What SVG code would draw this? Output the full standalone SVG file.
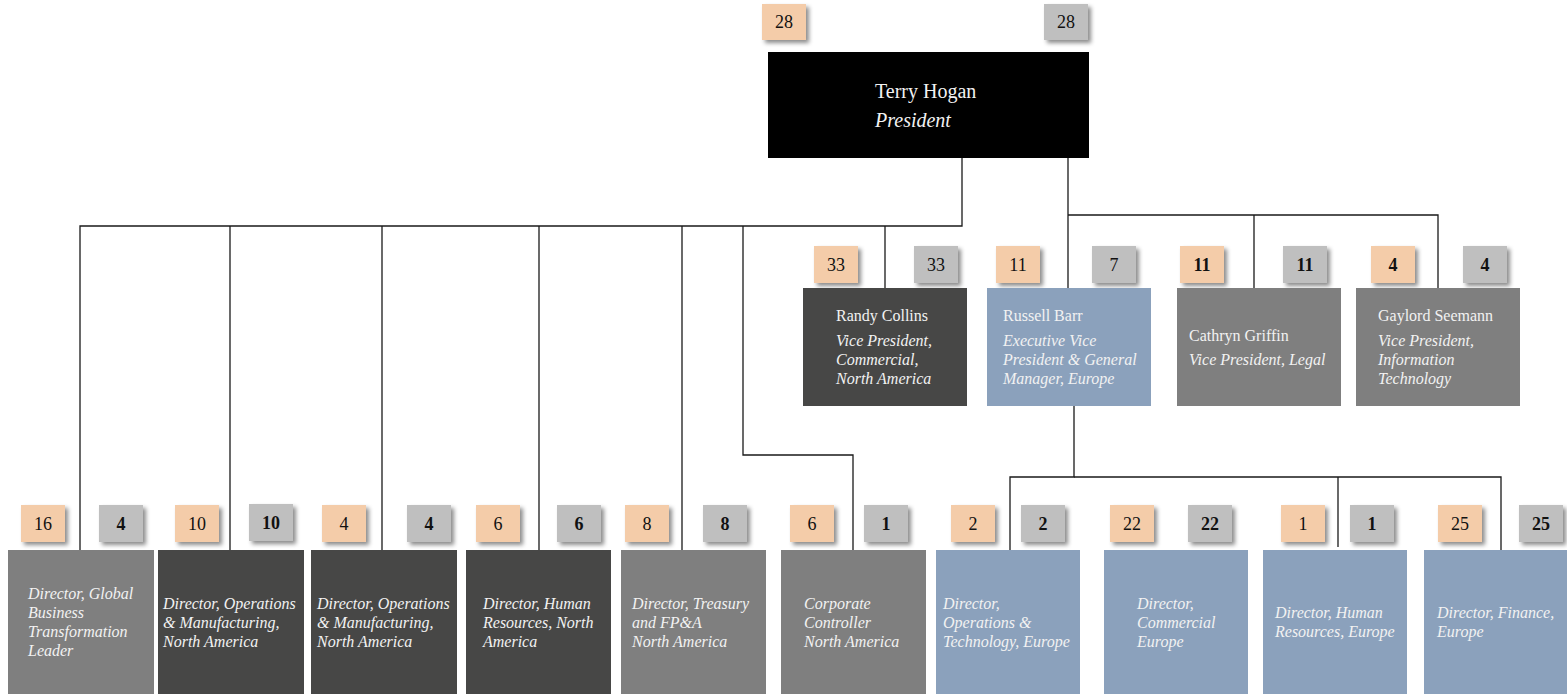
<svg xmlns="http://www.w3.org/2000/svg" width="1567" height="694" viewBox="0 0 1567 694">
<defs>
<filter id="sh" x="-30%" y="-30%" width="170%" height="170%">
<feDropShadow dx="3" dy="3" stdDeviation="2" flood-color="#000" flood-opacity="0.45"/>
</filter>
<style>
.dark{fill:#474746}
.mid{fill:#7f7f7f}
.blue{fill:#8ba1bc}
.black{fill:#000}
.ob{fill:#f4cca9;filter:url(#sh)}
.gb{fill:#bfbfbf;filter:url(#sh)}
.num{font-family:"Liberation Serif",serif;font-size:18px;fill:#111;text-anchor:middle}
.b{font-weight:bold}
.nm{font-family:"Liberation Serif",serif;font-size:16px;fill:#f2f2f2}
.big{font-size:20px}
.ti{font-style:italic}
.conn{stroke:#1a1a1a;stroke-width:1.3;fill:none}
</style>
</defs>
<rect width="1567" height="694" fill="#fff"/>

<g id="connectors" class="conn">
<path d="M962,158 V226 H80 V551"/>
<path d="M230,226 V551"/>
<path d="M382,226 V551"/>
<path d="M539,226 V551"/>
<path d="M682,226 V551"/>
<path d="M743,226 V455 H853 V551"/>
<path d="M885,226 V288"/>
<path d="M1068,158 V288"/>
<path d="M1068,215 H1438 V288"/>
<path d="M1254,215 V288"/>
<path d="M1074,406 V477 H1010 V550"/>
<path d="M1074,477 H1501 V550"/>
<path d="M1338,477 V547"/>
</g>

<g id="n-terry">
<rect class="ob" x="762" y="4" width="44" height="36"/>
<text class="num" x="784" y="28">28</text>
<rect class="gb" x="1044" y="4" width="44" height="36"/>
<text class="num" x="1066" y="28">28</text>
<rect class="black" x="768" y="52" width="321" height="106"/>
<text class="nm big" x="875" y="98">Terry Hogan</text>
<text class="nm big ti" x="875" y="127">President</text>
</g>

<g id="n-randy">
<rect class="ob" x="814" y="246" width="44" height="37"/>
<text class="num" x="836" y="271">33</text>
<rect class="gb" x="914" y="246" width="44" height="37"/>
<text class="num" x="936" y="271">33</text>
<rect class="dark" x="803" y="288" width="164" height="118"/>
<text class="nm" x="836" y="321">Randy Collins</text>
<text class="nm ti" x="836" y="346">Vice President,</text>
<text class="nm ti" x="836" y="365">Commercial,</text>
<text class="nm ti" x="836" y="384">North America</text>
</g>

<g id="n-russell">
<rect class="ob" x="996" y="246" width="44" height="37"/>
<text class="num" x="1018" y="271">11</text>
<rect class="gb" x="1092" y="246" width="44" height="37"/>
<text class="num" x="1114" y="271">7</text>
<rect class="blue" x="987" y="288" width="164" height="118"/>
<text class="nm" x="1003" y="321">Russell Barr</text>
<text class="nm ti" x="1003" y="346">Executive Vice</text>
<text class="nm ti" x="1003" y="365">President &amp; General</text>
<text class="nm ti" x="1003" y="384">Manager, Europe</text>
</g>

<g id="n-cathryn">
<rect class="ob" x="1180" y="246" width="44" height="37"/>
<text class="num b" x="1202" y="271">11</text>
<rect class="gb" x="1283" y="246" width="44" height="37"/>
<text class="num b" x="1305" y="271">11</text>
<rect class="mid" x="1177" y="288" width="164" height="118"/>
<text class="nm" x="1189" y="341">Cathryn Griffin</text>
<text class="nm ti" x="1189" y="365">Vice President, Legal</text>
</g>

<g id="n-gaylord">
<rect class="ob" x="1371" y="246" width="44" height="37"/>
<text class="num b" x="1393" y="271">4</text>
<rect class="gb" x="1463" y="246" width="44" height="37"/>
<text class="num b" x="1485" y="271">4</text>
<rect class="mid" x="1356" y="288" width="164" height="118"/>
<text class="nm" x="1378" y="321">Gaylord Seemann</text>
<text class="nm ti" x="1378" y="346">Vice President,</text>
<text class="nm ti" x="1378" y="365">Information</text>
<text class="nm ti" x="1378" y="384">Technology</text>
</g>

<g id="n-global">
<rect class="ob" x="21" y="505" width="44" height="37"/>
<text class="num" x="43" y="530">16</text>
<rect class="gb" x="99" y="505" width="44" height="37"/>
<text class="num b" x="121" y="530">4</text>
<rect class="mid" x="8" y="550" width="146" height="144"/>
<text class="nm ti" x="28" y="599">Director, Global</text>
<text class="nm ti" x="28" y="618">Business</text>
<text class="nm ti" x="28" y="637">Transformation</text>
<text class="nm ti" x="28" y="656">Leader</text>
</g>

<g id="n-ops1">
<rect class="ob" x="175" y="505" width="44" height="37"/>
<text class="num" x="197" y="530">10</text>
<rect class="gb" x="249" y="504" width="44" height="37"/>
<text class="num b" x="271" y="529">10</text>
<rect class="dark" x="158" y="550" width="146" height="144"/>
<text class="nm ti" x="163" y="609">Director, Operations</text>
<text class="nm ti" x="163" y="628">&amp; Manufacturing,</text>
<text class="nm ti" x="163" y="647">North America</text>
</g>

<g id="n-ops2">
<rect class="ob" x="322" y="505" width="44" height="37"/>
<text class="num" x="344" y="530">4</text>
<rect class="gb" x="407" y="505" width="44" height="37"/>
<text class="num b" x="429" y="530">4</text>
<rect class="dark" x="311" y="550" width="146" height="144"/>
<text class="nm ti" x="317" y="609">Director, Operations</text>
<text class="nm ti" x="317" y="628">&amp; Manufacturing,</text>
<text class="nm ti" x="317" y="647">North America</text>
</g>

<g id="n-hrna">
<rect class="ob" x="476" y="505" width="44" height="37"/>
<text class="num" x="498" y="530">6</text>
<rect class="gb" x="557" y="505" width="44" height="37"/>
<text class="num b" x="579" y="530">6</text>
<rect class="dark" x="466" y="550" width="145" height="144"/>
<text class="nm ti" x="483" y="609">Director, Human</text>
<text class="nm ti" x="483" y="628">Resources, North</text>
<text class="nm ti" x="483" y="647">America</text>
</g>

<g id="n-treasury">
<rect class="ob" x="625" y="505" width="44" height="37"/>
<text class="num" x="647" y="530">8</text>
<rect class="gb" x="703" y="505" width="44" height="37"/>
<text class="num b" x="725" y="530">8</text>
<rect class="mid" x="621" y="550" width="145" height="144"/>
<text class="nm ti" x="632" y="609">Director, Treasury</text>
<text class="nm ti" x="632" y="628">and FP&amp;A</text>
<text class="nm ti" x="632" y="647">North America</text>
</g>

<g id="n-controller">
<rect class="ob" x="790" y="505" width="44" height="37"/>
<text class="num" x="812" y="530">6</text>
<rect class="gb" x="864" y="505" width="44" height="37"/>
<text class="num b" x="886" y="530">1</text>
<rect class="mid" x="781" y="550" width="145" height="144"/>
<text class="nm ti" x="804" y="609">Corporate</text>
<text class="nm ti" x="804" y="628">Controller</text>
<text class="nm ti" x="804" y="647">North America</text>
</g>

<g id="n-opseu">
<rect class="ob" x="951" y="505" width="44" height="37"/>
<text class="num" x="973" y="530">2</text>
<rect class="gb" x="1021" y="505" width="44" height="37"/>
<text class="num b" x="1043" y="530">2</text>
<rect class="blue" x="936" y="550" width="144" height="144"/>
<text class="nm ti" x="943" y="609">Director,</text>
<text class="nm ti" x="943" y="628">Operations &amp;</text>
<text class="nm ti" x="943" y="647">Technology, Europe</text>
</g>

<g id="n-comeu">
<rect class="ob" x="1110" y="505" width="44" height="37"/>
<text class="num" x="1132" y="530">22</text>
<rect class="gb" x="1188" y="505" width="44" height="37"/>
<text class="num b" x="1210" y="530">22</text>
<rect class="blue" x="1104" y="550" width="144" height="144"/>
<text class="nm ti" x="1137" y="609">Director,</text>
<text class="nm ti" x="1137" y="628">Commercial</text>
<text class="nm ti" x="1137" y="647">Europe</text>
</g>

<g id="n-hreu">
<rect class="ob" x="1281" y="505" width="44" height="37"/>
<text class="num" x="1303" y="530">1</text>
<rect class="gb" x="1350" y="505" width="44" height="37"/>
<text class="num b" x="1372" y="530">1</text>
<rect class="blue" x="1263" y="550" width="144" height="144"/>
<text class="nm ti" x="1275" y="618">Director, Human</text>
<text class="nm ti" x="1275" y="637">Resources, Europe</text>
</g>

<g id="n-fineu">
<rect class="ob" x="1438" y="505" width="44" height="37"/>
<text class="num" x="1460" y="530">25</text>
<rect class="gb" x="1519" y="505" width="44" height="37"/>
<text class="num b" x="1541" y="530">25</text>
<rect class="blue" x="1424" y="550" width="144" height="144"/>
<text class="nm ti" x="1437" y="618">Director, Finance,</text>
<text class="nm ti" x="1437" y="637">Europe</text>
</g>
</svg>
